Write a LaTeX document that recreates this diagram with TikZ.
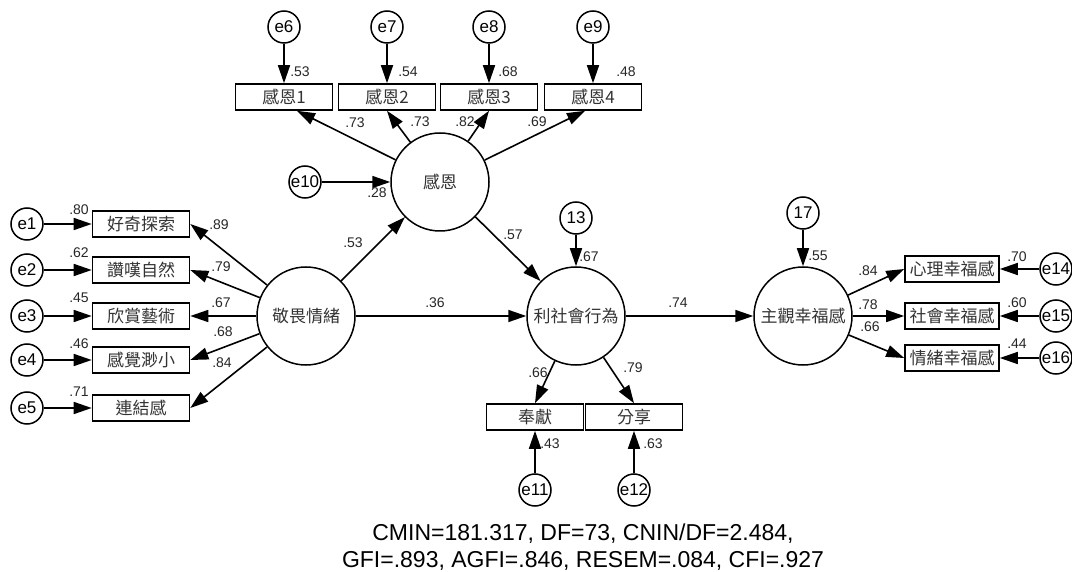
\documentclass[tikz,border=0pt]{standalone}
\usepackage{fontspec}
\setmainfont{Liberation Sans}
\newfontfamily\cjk{Noto Sans CJK TC}
\usetikzlibrary{arrows.meta}
\tikzset{
 lat/.style={circle,draw,line width=1.5pt,minimum size=98pt,inner sep=0pt,font=\cjk\fontsize{17}{19}\selectfont,text=black!80},
 err/.style={circle,draw,line width=1.5pt,minimum size=32pt,inner sep=0pt,font=\fontsize{17}{18}\selectfont},
 obs/.style={rectangle,draw,line width=1.6pt,minimum width=97pt,minimum height=26pt,inner sep=0pt,font=\cjk\fontsize{17}{19}\selectfont,text=black!80},
 obsr/.style={obs,minimum width=94pt},
 arr/.style={line width=1.6pt,-{Triangle[length=18pt,width=12pt]}},
 num/.style={font=\fontsize{14}{15}\selectfont,inner sep=0pt,text=black!85},
}
\begin{document}
\begin{tikzpicture}[x=1pt,y=-1pt]
\useasboundingbox (0,0) rectangle (1072,572);
% left block
\node[err] (e1) at (27,224) {e1};
\node[err] (e2) at (27,270) {e2};
\node[err] (e3) at (27,316) {e3};
\node[err] (e4) at (27,360) {e4};
\node[err] (e5) at (27,408) {e5};
\node[obs] (a1) at (141,224) {好奇探索};
\node[obs] (a2) at (141,270) {讚嘆自然};
\node[obs] (a3) at (141,316) {欣賞藝術};
\node[obs] (a4) at (141,360) {感覺渺小};
\node[obs] (a5) at (141,408) {連結感};
\node[lat] (aw) at (306,316) {敬畏情緒};
% gratitude
\node[lat] (gr) at (440,182) {感恩};
\node[obs] (g1) at (284,97) {感恩1};
\node[obs] (g2) at (387,97) {感恩2};
\node[obs] (g3) at (489,97) {感恩3};
\node[obs] (g4) at (593,97) {感恩4};
\node[err] (e6) at (284,27) {e6};
\node[err] (e7) at (387,27) {e7};
\node[err] (e8) at (489,27) {e8};
\node[err] (e9) at (593,27) {e9};
\node[err] (e10) at (305,182) {e10};
% prosocial
\node[lat] (ps) at (576,316) {利社會行為};
\node[err] (r13) at (576,218) {13};
\node[obs] (fx) at (535,417) {奉獻};
\node[obs] (sh) at (634,417) {分享};
\node[err] (e11) at (535,490) {e11};
\node[err] (e12) at (634,490) {e12};
% wellbeing
\node[lat] (sw) at (803,316) {主觀幸福感};
\node[err] (r17) at (803,213) {17};
\node[obsr] (w1) at (952,269) {心理幸福感};
\node[obsr] (w2) at (952,316) {社會幸福感};
\node[obsr] (w3) at (952,358) {情緒幸福感};
\node[err] (e14) at (1056,269) {e14};
\node[err] (e15) at (1056,316) {e15};
\node[err] (e16) at (1056,358) {e16};
% arrows
\foreach \i in {1,...,5} {\draw[arr] (e\i) -- (a\i.west); \draw[arr] (aw) -- (a\i.east);}
\draw[arr] (e6) -- (g1); \draw[arr] (e7) -- (g2); \draw[arr] (e8) -- (g3); \draw[arr] (e9) -- (g4);
\draw[arr] (gr) -- ([xshift=13pt]g1.south);
\draw[arr] (gr) -- (g2.south);
\draw[arr] (gr) -- (g3.south);
\draw[arr] (gr) -- ([xshift=-8pt]g4.south);
\draw[arr] (e10) -- (gr);
\draw[arr] (aw) -- (gr);
\draw[arr] (gr) -- (ps);
\draw[arr] (aw) -- (ps);
\draw[arr] (r13) -- (ps);
\draw[arr] (ps) -- (fx.north);
\draw[arr] (ps) -- (sh.north);
\draw[arr] (e11) -- (fx);
\draw[arr] (e12) -- (sh);
\draw[arr] (ps) -- (sw);
\draw[arr] (r17) -- (sw);
\draw[arr] (sw) -- (w1.west);
\draw[arr] (sw) -- (w2.west);
\draw[arr] (sw) -- (w3.west);
\draw[arr] (e14) -- (w1.east);
\draw[arr] (e15) -- (w2.east);
\draw[arr] (e16) -- (w3.east);
% numbers
\node[num] (n1) at (79,210) {.80};
\node[num] (n2) at (79,253) {.62};
\node[num] (n3) at (79,298) {.45};
\node[num] (n4) at (79,344) {.46};
\node[num] (n5) at (79,392) {.71};
\node[num] (n6) at (219,225) {.89};
\node[num] (n7) at (221,267) {.79};
\node[num] (n8) at (221,303) {.67};
\node[num] (n9) at (223,332) {.68};
\node[num] (n10) at (222,363) {.84};
\node[num] (n11) at (300,72) {.53};
\node[num] (n12) at (408,72) {.54};
\node[num] (n13) at (508,72) {.68};
\node[num] (n14) at (626,72) {.48};
\node[num] (n15) at (355,123) {.73};
\node[num] (n16) at (420,122) {.73};
\node[num] (n17) at (465,122) {.82};
\node[num] (n18) at (537,122) {.69};
\node[num] (n19) at (377,193) {.28};
\node[num] (n20) at (353,243) {.53};
\node[num] (n21) at (513,235) {.57};
\node[num] (n22) at (435,303) {.36};
\node[num] (n23) at (678,303) {.74};
\node[num] (n24) at (589,257) {.67};
\node[num] (n25) at (538,373) {.66};
\node[num] (n26) at (633,368) {.79};
\node[num] (n27) at (550,444) {.43};
\node[num] (n28) at (653,444) {.63};
\node[num] (n29) at (818,256) {.55};
\node[num] (n30) at (868,271) {.84};
\node[num] (n31) at (868,305) {.78};
\node[num] (n32) at (870,327) {.66};
\node[num] (n33) at (1017,257) {.70};
\node[num] (n34) at (1017,303) {.60};
\node[num] (n35) at (1017,344) {.44};
\node[align=center,inner sep=0pt,font=\fontsize{23}{27}\selectfont] (fit) at (583,547) {CMIN=181.317, DF=73, CNIN/DF=2.484,\\GFI=.893, AGFI=.846, RESEM=.084, CFI=.927};
\end{tikzpicture}
\end{document}
